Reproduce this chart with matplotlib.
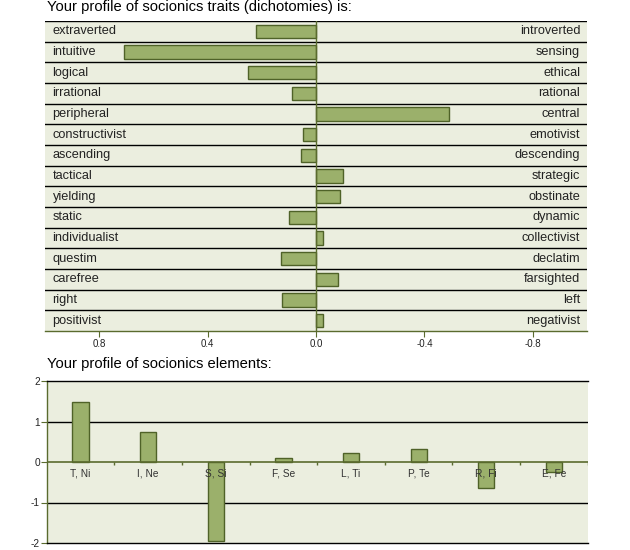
import matplotlib
matplotlib.use("Agg")
import matplotlib.pyplot as plt
import numpy as np

plt.rcParams['font.family'] = ['Liberation Sans', 'DejaVu Sans']

# ---- data ----
left_traits = ["extraverted", "intuitive", "logical", "irrational", "peripheral",
               "constructivist", "ascending", "tactical", "yielding", "static",
               "individualist", "questim", "carefree", "right", "positivist"]
right_traits = ["introverted", "sensing", "ethical", "rational", "central",
                "emotivist", "descending", "strategic", "obstinate", "dynamic",
                "collectivist", "declatim", "farsighted", "left", "negativist"]
trait_values = [0.22, 0.71, 0.25, 0.09, -0.49,
                0.047, 0.055, -0.10, -0.09, 0.10,
                -0.027, 0.13, -0.083, 0.125, -0.027]
trait_ticks = [0.8, 0.4, 0.0, -0.4, -0.8]
trait_tick_labels = ["0.8", "0.4", "0.0", "-0.4", "-0.8"]

elements = ["T, Ni", "I, Ne", "S, Si", "F, Se", "L, Ti", "P, Te", "R, Fi", "E, Fe"]
element_values = [1.47, 0.73, -1.94, 0.09, 0.22, 0.32, -0.65, -0.25]
element_ticks = [2, 1, 0, -1, -2]

title1 = "Your profile of socionics traits (dichotomies) is:"
title2 = "Your profile of socionics elements:"

# ---- style ----
BG = "#EBEEDF"
BAR = "#9BB06B"
EDGE = "#4F6228"
OLIVE = "#5A6B2E"
TXT = "#222222"

fig = plt.figure(figsize=(6.3, 5.5), dpi=100)

# ---- top chart ----
ax = fig.add_axes([45/630, 1-331/550, 542/630, 310/550])
n = len(left_traits)
ax.set_facecolor(BG)
ys = np.arange(n) + 0.5
ax.barh(ys, trait_values, height=0.64, color=BAR, edgecolor=EDGE, linewidth=1.0, zorder=3)
ax.set_xlim(1.0, -1.0)
ax.set_ylim(n, 0)
for k in range(n):
    ax.axhline(k, color="black", linewidth=1.0, zorder=2)
ax.axvline(0, color=OLIVE, linewidth=1.0, zorder=4)
for i, (l, r) in enumerate(zip(left_traits, right_traits)):
    ax.text(0.972, ys[i], l, ha="left", va="center", fontsize=9.2, color=TXT, zorder=5)
    ax.text(-0.975, ys[i], r, ha="right", va="center", fontsize=9.2, color=TXT, zorder=5)
ax.set_xticks(trait_ticks)
ax.set_xticklabels(trait_tick_labels, fontsize=7, color=TXT)
ax.tick_params(axis="x", direction="out", length=4, color=OLIVE, pad=2)
ax.set_yticks([])
for s in ["left", "right", "top"]:
    ax.spines[s].set_visible(False)
ax.spines["bottom"].set_color(OLIVE)
ax.spines["bottom"].set_linewidth(1.0)

fig.text(47/630, 1-7/550, title1, fontsize=10.6, color="black", va="center", ha="left")
fig.text(47/630, 1-364/550, title2, fontsize=10.6, color="black", va="center", ha="left")

# ---- bottom chart ----
bx = fig.add_axes([46.7/630, 1-543/550, 541/630, 162/550])
m = len(elements)
bx.set_facecolor(BG)
xs = np.arange(m) + 0.5
bx.bar(xs, element_values, width=0.24, color=BAR, edgecolor=EDGE, linewidth=1.0, zorder=3)
bx.set_xlim(0, m)
bx.set_ylim(-2, 2)
for g in [1, -1]:
    bx.axhline(g, color="black", linewidth=1.0, zorder=2)
bx.axhline(0, color=OLIVE, linewidth=1.2, zorder=4)
bx.vlines(np.arange(1, m + 1), -0.08, 0, color=OLIVE, linewidth=1.0, zorder=4)
for i, lab in enumerate(elements):
    bx.text(xs[i], -0.17, lab, ha="center", va="top", fontsize=7.3, color="#333333", zorder=5)
bx.set_xticks([])
bx.set_yticks(element_ticks)
bx.set_yticklabels([str(t) for t in element_ticks], fontsize=7.3, color=TXT)
bx.tick_params(axis="y", direction="out", length=4, color=OLIVE, pad=1)
bx.spines["right"].set_visible(False)
bx.spines["left"].set_color(OLIVE)
bx.spines["top"].set_color("black")
bx.spines["bottom"].set_color("black")
for s in ["left", "top", "bottom"]:
    bx.spines[s].set_linewidth(1.0)

fig.savefig("out.png", dpi=100)
